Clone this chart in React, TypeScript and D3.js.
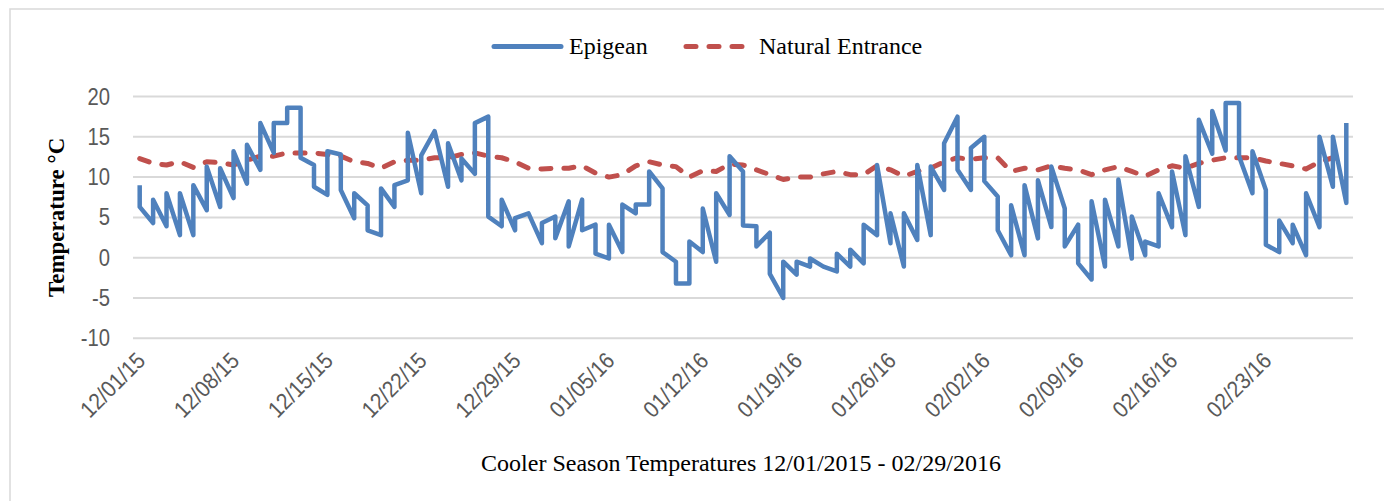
import React from 'react';
import * as d3 from 'd3';

// one category per day, 12/01/2015 .. 02/29/2016
const days = d3.timeDay.range(new Date(2015, 11, 1), new Date(2016, 2, 1));

// Epigean: first and last reading of each day (Excel stacks same-date points vertically)
const epigeanFirst = [
  9.0, 4.3, 3.9, 2.8, 2.8, 5.9, 6.3, 7.4, 9.2, 10.9, 13.0, 16.7, 18.6, 11.5, 7.8, 12.8, 4.9, 6.5, 2.8, 6.3,
  9.6, 8.0, 15.7, 8.8, 9.6, 10.4, 17.5, 3.9, 3.4, 5.5, 1.8, 5.1, 7.0, 7.2, 4.1, -0.1, 0.7, 5.5, 6.6, 8.6,
  -0.5, -3.2, 0.7, -0.5, 5.3, 10.7, 3.9, 3.1, -5.0, -2.1, -1.1, -1.1, -1.7, -1.1, -0.7, 2.8, 1.8, -1.1, 2.2, 2.8,
  8.4, 17.5, 8.4, 15.0, 7.6, 0.3, 0.3, 2.4, 3.8, 6.1, 4.1, -2.7, -1.1, 1.4, -0.1, 0.3, 1.4, 3.8, 2.8, 6.3,
  12.9, 13.3, 19.2, 8.0, 8.4, 0.7, 1.8, 0.3, 3.8, 8.8, 6.8,
];
const epigeanLast = [
  6.3, 7.2, 8.0, 8.0, 9.0, 11.3, 11.1, 13.2, 14.0, 16.7, 16.7, 18.6, 12.4, 8.8, 13.2, 8.4, 8.0, 3.4, 8.6, 9.0,
  15.5, 12.7, 15.7, 14.2, 12.3, 16.7, 5.1, 7.2, 4.9, 5.5, 4.3, 2.4, 1.4, 3.4, 0.5, 4.1, 6.6, 6.6, 10.7, 0.7,
  -3.2, 2.0, 6.1, 8.0, 12.6, 4.0, 1.4, -2.0, -0.5, -0.5, -0.1, -1.1, 0.5, 1.0, 4.1, 11.5, 5.5, 5.5, 11.5, 11.3,
  14.2, 10.9, 13.6, 9.5, 3.4, 6.5, 9.0, 9.6, 11.3, 1.4, -0.7, 7.0, 7.2, 9.7, 5.1, 2.0, 8.0, 10.7, 12.6, 17.1,
  18.2, 19.2, 12.6, 13.2, 1.6, 4.6, 4.1, 8.0, 15.0, 15.0, 16.7,
];

// Natural Entrance: daily reading
const entrance = [
  12.3, 11.7, 11.5, 11.9, 11.2, 11.9, 11.8, 11.5, 12.1, 12.6, 12.6, 13.0, 13.0, 13.0, 12.8, 12.6, 11.9, 11.7, 11.1, 11.9,
  12.1, 12.1, 12.4, 12.4, 12.8, 13.0, 12.6, 12.4, 11.9, 11.1, 11.0, 11.1, 11.1, 11.4, 10.5, 10.0, 10.3, 11.4, 11.9, 11.5,
  11.3, 10.0, 10.8, 10.7, 11.6, 11.5, 10.9, 10.3, 9.7, 10.0, 10.0, 10.4, 10.7, 10.3, 10.3, 11.4, 10.9, 10.1, 10.7, 11.1,
  11.9, 12.4, 12.2, 12.4, 12.4, 10.7, 11.1, 10.9, 11.4, 11.1, 10.9, 10.3, 10.9, 11.3, 10.7, 10.1, 10.9, 11.4, 11.1, 11.7,
  12.1, 12.4, 12.4, 12.4, 12.0, 11.7, 11.4, 11.0, 11.9, 12.4, 12.1,
];

const yTicks = [-10, -5, 0, 5, 10, 15, 20];
const tickEvery = 7;

const W = 1384;
const H = 501;
const plot = { left: 133, right: 1353, top: 96.5, bottom: 338.3 };

const BLUE = '#4F81BD';
const RED = '#C0504D';
const GRID = '#D9D9D9';
const TICK_FONT = '"Liberation Sans", Arial, sans-serif';
const SERIF = '"Liberation Serif", "Times New Roman", serif';

export default function App() {
  const x = d3
    .scaleBand<number>()
    .domain(days.map((_, i) => i))
    .range([plot.left, plot.right]);
  const cx = (i: number) => (x(i) as number) + x.bandwidth() / 2;

  const y = d3.scaleLinear().domain([-10, 20]).range([plot.bottom, plot.top]);

  // two points per day for the blue series
  const epiPts: [number, number][] = [];
  days.forEach((_, i) => {
    epiPts.push([cx(i), y(epigeanFirst[i])]);
    epiPts.push([cx(i), y(epigeanLast[i])]);
  });
  const line = d3.line<[number, number]>().x((d) => d[0]).y((d) => d[1]);
  const entPath = d3
    .line<number>()
    .x((_, i) => cx(i))
    .y((d) => y(d))(entrance);

  const fmt = d3.timeFormat('%m/%d/%y');
  const tickIdx = days.map((_, i) => i).filter((i) => i % tickEvery === 0);

  return (
    <svg
      width={W}
      height={H}
      style={{ position: 'absolute', left: 0, top: 0, background: '#fff' }}
    >
      {/* chart border (only top and left visible in the crop) */}
      <rect x={10} y={9} width={W + 20} height={H + 20} fill="#fff" stroke={GRID} strokeWidth={1.5} />

      {/* legend */}
      <g>
        <line x1={494} x2={561} y1={46.5} y2={46.5} stroke={BLUE} strokeWidth={5} strokeLinecap="round" />
        <text x={569} y={54} fontFamily={SERIF} fontSize={24} fill="#000">
          Epigean
        </text>
        <line
          x1={686}
          x2={746}
          y1={46.5}
          y2={46.5}
          stroke={RED}
          strokeWidth={5}
          strokeLinecap="round"
          strokeDasharray="10,13"
        />
        <text x={759} y={54} fontFamily={SERIF} fontSize={24} fill="#000">
          Natural Entrance
        </text>
      </g>

      {/* gridlines + y labels */}
      {yTicks.map((t) => (
        <g key={t}>
          <line x1={plot.left} x2={plot.right} y1={y(t)} y2={y(t)} stroke={GRID} strokeWidth={2} />
          <g transform={`translate(110,${y(t) + 8}) scale(0.88,1)`}>
            <text textAnchor="end" fontFamily={TICK_FONT} fontSize={23} fill="#595959">
              {t}
            </text>
          </g>
        </g>
      ))}

      {/* x labels, rotated */}
      {tickIdx.map((i) => (
        <g key={i} transform={`translate(${cx(i) + 7},362) rotate(-45) scale(0.9,1)`}>
          <text textAnchor="end" fontFamily={TICK_FONT} fontSize={23} fill="#595959">
            {fmt(days[i])}
          </text>
        </g>
      ))}

      {/* series */}
      <path
        d={entPath || ''}
        fill="none"
        stroke={RED}
        strokeWidth={5}
        strokeLinecap="round"
        strokeLinejoin="round"
        strokeDasharray="10,13"
      />
      <path d={line(epiPts) || ''} fill="none" stroke={BLUE} strokeWidth={4.5} strokeLinejoin="round" />

      {/* axis titles */}
      <text
        transform={`translate(64,${(plot.top + plot.bottom) / 2}) rotate(-90)`}
        textAnchor="middle"
        fontFamily={SERIF}
        fontWeight="bold"
        fontSize={23}
        fill="#000"
      >
        Temperature °C
      </text>
      <text x={741} y={471} textAnchor="middle" fontFamily={SERIF} fontSize={24} fill="#000">
        Cooler Season Temperatures 12/01/2015 - 02/29/2016
      </text>
    </svg>
  );
}
